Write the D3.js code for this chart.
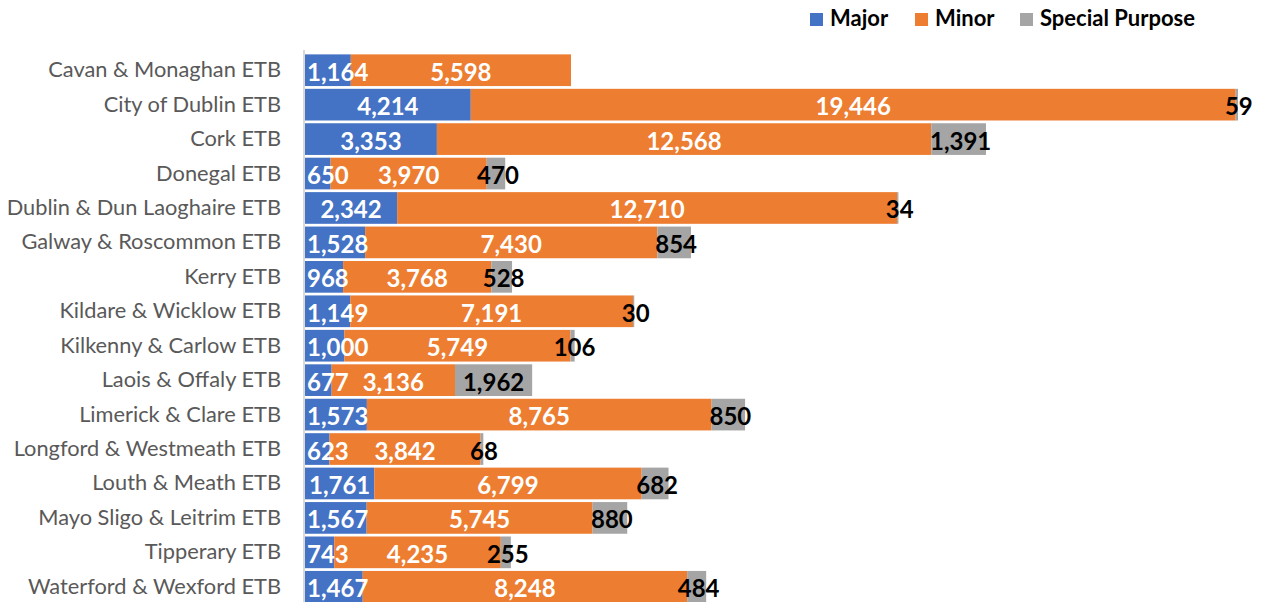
<!DOCTYPE html>
<html><head><meta charset="utf-8">
<script src="https://cdn.jsdelivr.net/npm/d3@7"></script>
<style>body{margin:0;background:#fff}svg{display:block}</style>
</head><body>
<svg id="c" width="1264" height="602"></svg>
<script>
const categories = ["Cavan & Monaghan ETB","City of Dublin ETB","Cork ETB","Donegal ETB","Dublin & Dun Laoghaire ETB","Galway & Roscommon ETB","Kerry ETB","Kildare & Wicklow ETB","Kilkenny & Carlow ETB","Laois & Offaly ETB","Limerick & Clare ETB","Longford & Westmeath ETB","Louth & Meath ETB","Mayo Sligo & Leitrim ETB","Tipperary ETB","Waterford & Wexford ETB"];
const major = [1164,4214,3353,650,2342,1528,968,1149,1000,677,1573,623,1761,1567,743,1467];
const minor = [5598,19446,12568,3970,12710,7430,3768,7191,5749,3136,8765,3842,6799,5745,4235,8248];
const special = [0,59,1391,470,34,854,528,30,106,1962,850,68,682,880,255,484];
const seriesNames = ["Major","Minor","Special Purpose"];
const colors = ["#4472C4","#ED7D31","#A5A5A5"];
const labelColors = ["#fff","#fff","#000"];

const svg = d3.select("#c");
const mLeft = 305, mRight = 1238, mTop = 53, mBottom = 604;
const FONT = "Lato, 'Open Sans', sans-serif";

const rows = categories.map((c,i)=>({cat:c, vals:[major[i],minor[i],special[i]]}));
const stack = d3.stack().keys([0,1,2]).value((d,k)=>d.vals[k])(rows);
const maxTotal = d3.max(rows, d=>d3.sum(d.vals));
const x = d3.scaleLinear().domain([0,maxTotal]).range([mLeft,mRight]);
const y = d3.scaleBand().domain(categories).range([mTop,mBottom]).paddingInner(0.08).paddingOuter(0.04);

stack.forEach((layer,k)=>{
  svg.append("g").selectAll("rect").data(layer).join("rect")
    .attr("x", d=>x(d[0])).attr("width", d=>Math.max(0,x(d[1])-x(d[0])))
    .attr("y", d=>y(d.data.cat)).attr("height", y.bandwidth())
    .attr("fill", colors[k]);
});

svg.append("line").attr("x1",mLeft-1).attr("x2",mLeft-1).attr("y1",mTop-3).attr("y2",602)
  .attr("stroke","#d9d9d9").attr("stroke-width",2);

const yAxis = svg.append("g").attr("transform",`translate(${mLeft-24},0)`)
  .call(d3.axisLeft(y).tickSize(0).tickPadding(0));
yAxis.select(".domain").remove();
yAxis.selectAll("text").attr("font-family",FONT).attr("font-size",21.8).attr("fill","#595959");

stack.forEach((layer,k)=>{
  const g = svg.append("g");
  layer.forEach(d=>{
    const v = d[1]-d[0];
    if(!v) return;
    const t = g.append("text").text(d3.format(",")(v))
      .attr("font-family",FONT).attr("font-weight","bold").attr("font-size",24)
      .attr("fill",labelColors[k]).attr("text-anchor","middle")
      .attr("dominant-baseline","central")
      .attr("y", y(d.data.cat)+y.bandwidth()/2+1);
    const w = t.node().getComputedTextLength();
    let cx = (x(d[0])+x(d[1]))/2 + (k===2 && (x(d[1])-x(d[0]))<w ? 2 : 0);
    if(cx - w/2 < mLeft+2) cx = mLeft+2+w/2;
    t.attr("x", cx);
  });
});

const legX = [810,915,1020];
const leg = svg.append("g");
seriesNames.forEach((n,k)=>{
  leg.append("rect").attr("x",legX[k]).attr("y",13).attr("width",13).attr("height",13).attr("fill",colors[k]);
  leg.append("text").attr("x",legX[k]+20).attr("y",26).text(n)
    .attr("font-family",FONT).attr("font-weight","bold").attr("font-size",22).attr("fill","#000");
});
</script>
</body></html>
